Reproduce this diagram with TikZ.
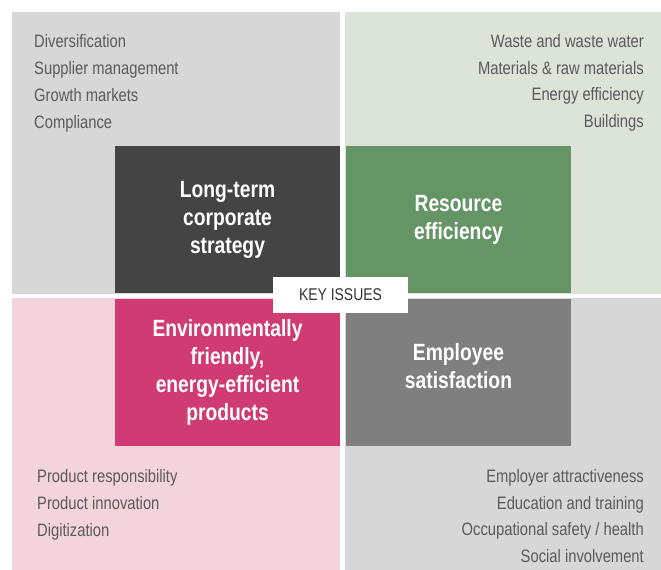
\documentclass[tikz,border=0pt]{standalone}
\usepackage{fontspec}
\setmainfont{Liberation Sans}[FakeStretch=0.82]
\definecolor{bgTL}{HTML}{D7D7D7}
\definecolor{bgTR}{HTML}{DCE3D9}
\definecolor{bgBL}{HTML}{F3D4DB}
\definecolor{bgBR}{HTML}{D7D7D7}
\definecolor{boxDark}{HTML}{444444}
\definecolor{boxGreen}{HTML}{659567}
\definecolor{boxPink}{HTML}{D03B74}
\definecolor{boxGrey}{HTML}{7F7F7F}
\definecolor{listText}{HTML}{5A5A5A}
\definecolor{keyText}{HTML}{333333}
\begin{document}
\begin{tikzpicture}[x=1pt,y=-1pt,
  bg/.style={fill=#1,draw=none},
  keybox/.style={fill=#1,draw=none,minimum width=225pt,minimum height=147pt,inner sep=0pt,
    text=white,font=\fontsize{23.5}{28}\selectfont\bfseries,align=center,text width=220pt},
  keytext/.style={inner sep=0pt,text=white,font=\fontsize{23.5}{28.5}\selectfont\bfseries,align=center},
  listl/.style={anchor=north west,inner sep=0pt,align=left,text=listText,font=\fontsize{18}{26.8}\selectfont},
  listr/.style={anchor=north east,inner sep=0pt,align=right,text=listText,font=\fontsize{18}{26.8}\selectfont}]
\useasboundingbox (0,0) rectangle (661,570);
\fill[white] (0,0) rectangle (661,570);
% background quadrants
\path[bg=bgTL] (12,12) rectangle (340,294);
\path[bg=bgTR] (345,12) rectangle (661,294);
\path[bg=bgBL] (12,298) rectangle (340,570);
\path[bg=bgBR] (345,298) rectangle (661,570);
% key boxes
\node[keybox=boxDark] (strategy) at (227.5,219.5) {Long-term\\corporate\\strategy};
\node[keybox=boxGreen] (resource) at (458.5,219.5) {Resource\\efficiency};
\node[keybox=boxPink] (products) at (227.5,372) {Environmentally\\friendly,\\energy-efficient\\products};
\node[keybox=boxGrey] (employee) at (458.5,372) {};
\node[keytext] (employeeText) at (458.5,366) {Employee\\satisfaction};
% centre label
\node[fill=white,minimum width=135pt,minimum height=36pt,inner sep=0pt,
  text=keyText,font=\fontsize{17}{20}\selectfont] (key) at (340.5,295) {KEY ISSUES};
% lists
\node[listl] (listTL) at (34,34.5) {Diversification\\Supplier management\\Growth markets\\Compliance};
\node[listr] (listTR) at (644,34) {Waste and waste water\\Materials \& raw materials\\Energy efficiency\\Buildings};
\node[listl] (listBL) at (37,469.5) {Product responsibility\\Product innovation\\Digitization};
\node[listr] (listBR) at (644,469) {Employer attractiveness\\Education and training\\Occupational safety / health\\Social involvement};
\end{tikzpicture}
\end{document}
